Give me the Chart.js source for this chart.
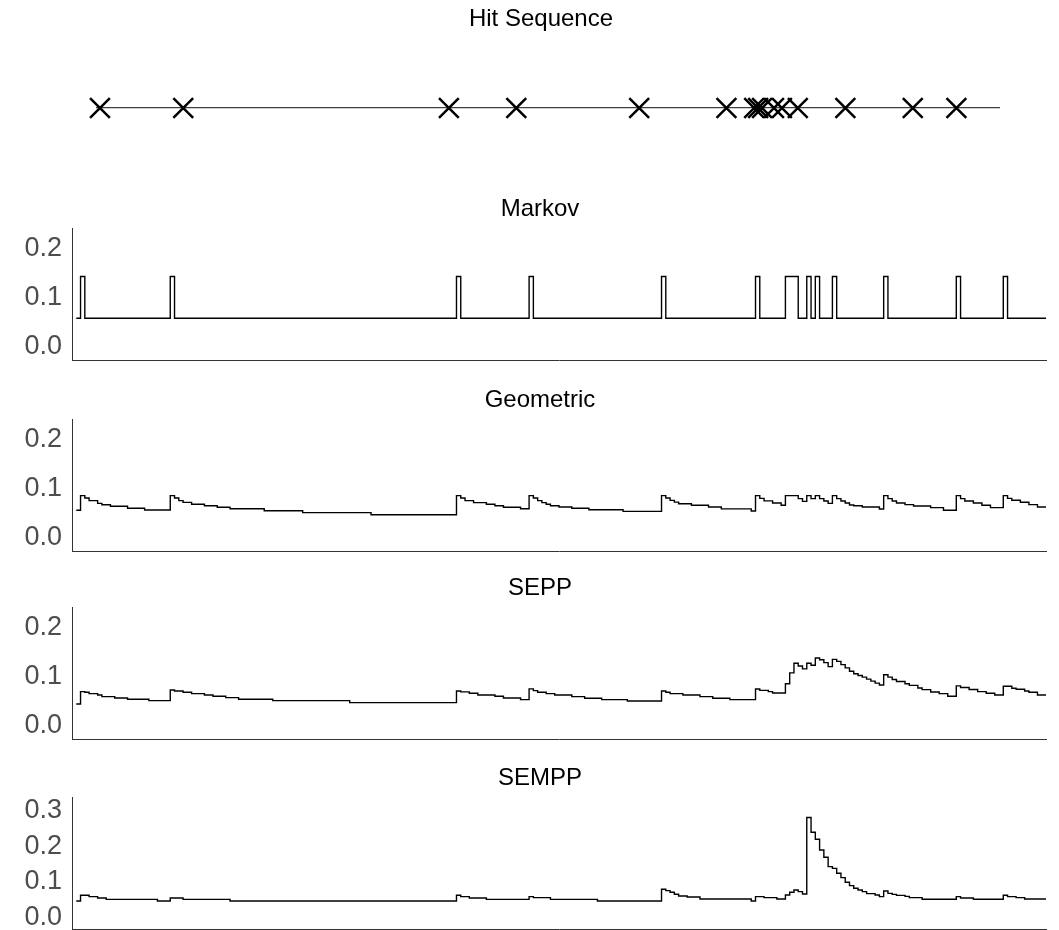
<!DOCTYPE html>
<html>
<head>
<meta charset="utf-8">
<script src="https://cdn.jsdelivr.net/npm/chart.js@4.4.1/dist/chart.umd.min.js"></script>
<style>
  body { margin: 0; background: #fff; width: 1059px; height: 930px; overflow: hidden; position: relative; }
  canvas { position: absolute; left: 0; }
</style>
</head>
<body>
<canvas id="hits" width="1059" height="180" style="top:0"></canvas>
<canvas id="markov" width="1059" height="172" style="top:190px"></canvas>
<canvas id="geometric" width="1059" height="172" style="top:381px"></canvas>
<canvas id="sepp" width="1059" height="172" style="top:569px"></canvas>
<canvas id="sempp" width="1059" height="172" style="top:759px"></canvas>
<script>
// time runs over integer steps 0..lastStep
const lastStep = 227;
const hitTimes = [1, 22, 89, 106, 137, 159, 166, 167, 168, 171, 173, 177, 189, 206, 217];

// each series: [step, value] pairs, value holds until the next pair
const markov = [
  [0, 0.058], [1, 0.143], [2, 0.058], [22, 0.143], [23, 0.058], [89, 0.143], [90, 0.058],
  [106, 0.143], [107, 0.058], [137, 0.143], [138, 0.058], [159, 0.143], [160, 0.058],
  [166, 0.143], [169, 0.058], [171, 0.143], [172, 0.058], [173, 0.143], [174, 0.058],
  [177, 0.143], [178, 0.058], [189, 0.143], [190, 0.058], [206, 0.143], [207, 0.058],
  [217, 0.143], [218, 0.058], [227, 0.058]
];

const geometric = [
  [0, 0.0558], [1, 0.0857], [2, 0.0810], [3, 0.0755], [5, 0.0700], [6, 0.0670], [8, 0.0640], [12, 0.0600], [16, 0.0565],
  [22, 0.0857], [23, 0.0810], [24, 0.0755], [25, 0.0720], [27, 0.0680], [30, 0.0650], [33, 0.0620], [36, 0.0590], [44, 0.0550], [53, 0.0510], [69, 0.0469],
  [89, 0.0857], [90, 0.0810], [91, 0.0755], [93, 0.0715], [96, 0.0680], [98, 0.0650], [100, 0.0620], [104, 0.0590],
  [106, 0.0857], [107, 0.0810], [108, 0.0755], [109, 0.0715], [110, 0.0680], [111, 0.0650], [113, 0.0625], [116, 0.0600], [120, 0.0570], [128, 0.0537],
  [137, 0.0857], [138, 0.0810], [139, 0.0760], [140, 0.0725], [141, 0.0690], [144, 0.0660], [148, 0.0625], [151, 0.0588], [158, 0.0545],
  [159, 0.0857], [160, 0.0800], [161, 0.0750], [163, 0.0706], [165, 0.0660],
  [166, 0.0857], [169, 0.0796], [170, 0.0740],
  [171, 0.0857], [172, 0.0796],
  [173, 0.0857], [174, 0.0796], [175, 0.0748], [176, 0.0700],
  [177, 0.0857], [178, 0.0796], [179, 0.0748], [180, 0.0707], [181, 0.0665], [182, 0.0652], [184, 0.0625], [188, 0.0585],
  [189, 0.0857], [190, 0.0796], [191, 0.0748], [192, 0.0707], [194, 0.0673], [196, 0.0646], [200, 0.0612], [203, 0.0558],
  [206, 0.0857], [207, 0.0796], [208, 0.0748], [210, 0.0707], [212, 0.0660], [214, 0.0612],
  [217, 0.0857], [218, 0.0800], [219, 0.0762], [221, 0.0721], [223, 0.0673], [225, 0.0626], [227, 0.0626]
];

const sepp = [
  [0, 0.0442], [1, 0.0694], [2, 0.0681], [3, 0.0654], [5, 0.0626], [6, 0.0592], [9, 0.0565], [12, 0.0538], [17, 0.0511],
  [22, 0.0728], [23, 0.0708], [25, 0.0681], [27, 0.0654], [30, 0.0626], [32, 0.0599], [35, 0.0572], [38, 0.0538], [46, 0.0511], [64, 0.0470],
  [89, 0.0708], [90, 0.0688], [92, 0.0661], [94, 0.0626], [98, 0.0599], [100, 0.0565], [104, 0.0531],
  [106, 0.0749], [107, 0.0715], [108, 0.0681], [110, 0.0654], [112, 0.0626], [116, 0.0592], [119, 0.0558], [123, 0.0531], [129, 0.0504],
  [137, 0.0708], [138, 0.0681], [139, 0.0654], [142, 0.0626], [146, 0.0592], [149, 0.0558], [153, 0.0531],
  [159, 0.0747], [160, 0.0720], [162, 0.0694], [163, 0.0667],
  [166, 0.0855], [167, 0.1076], [168, 0.1270], [169, 0.1217], [170, 0.1157], [171, 0.1270], [172, 0.1230],
  [173, 0.1378], [174, 0.1344], [175, 0.1284], [176, 0.1203],
  [177, 0.1350], [178, 0.1310], [179, 0.1243], [180, 0.1177], [181, 0.1109], [182, 0.1057], [183, 0.1022], [184, 0.0989],
  [185, 0.0948], [186, 0.0908], [187, 0.0868], [188, 0.0828],
  [189, 0.1036], [190, 0.0989], [191, 0.0941], [192, 0.0901], [194, 0.0854], [195, 0.0821], [197, 0.0767], [198, 0.0734],
  [200, 0.0687], [202, 0.0653], [204, 0.0600],
  [206, 0.0811], [207, 0.0777], [209, 0.0736], [211, 0.0694], [213, 0.0661], [215, 0.0626],
  [217, 0.0804], [219, 0.0763], [220, 0.0743], [222, 0.0708], [223, 0.0681], [225, 0.0626], [227, 0.0626]
];

const sempp = [
  [0, 0.0467], [1, 0.0628], [3, 0.0589], [5, 0.0551], [7, 0.0514], [19, 0.0467],
  [22, 0.0551], [25, 0.0514], [36, 0.0467],
  [89, 0.0628], [90, 0.0589], [92, 0.0551], [96, 0.0514],
  [106, 0.0589], [107, 0.0561], [111, 0.0514], [122, 0.0467],
  [137, 0.0795], [138, 0.0757], [139, 0.0711], [140, 0.0655], [141, 0.0608], [143, 0.0580], [146, 0.0524], [158, 0.0467],
  [159, 0.0589], [161, 0.0561], [164, 0.0524],
  [166, 0.0636], [167, 0.0711], [168, 0.0776], [169, 0.0729], [170, 0.0664],
  [171, 0.2805], [172, 0.2394], [173, 0.2197], [174, 0.1898], [175, 0.1692], [176, 0.1430], [177, 0.1383],
  [178, 0.1243], [179, 0.1122], [180, 0.0991], [181, 0.0897], [182, 0.0823], [183, 0.0776], [184, 0.0729],
  [185, 0.0673], [187, 0.0636], [188, 0.0589],
  [189, 0.0748], [190, 0.0682], [191, 0.0654], [192, 0.0626], [194, 0.0598], [195, 0.0561], [198, 0.0516],
  [206, 0.0589], [207, 0.0551], [210, 0.0516],
  [217, 0.0628], [218, 0.0589], [220, 0.0561], [222, 0.0524], [227, 0.0524]
];

const ticksLow = [0, 0.1, 0.2];
const ticksHigh = [0, 0.1, 0.2, 0.3];

Chart.defaults.font.family = '"Liberation Sans", Arial, sans-serif';

const titleOpts = text => ({
  display: true,
  text: text,
  color: '#000',
  font: { size: 24, weight: 'normal' },
  padding: { top: 4.6, bottom: 4.9 }
});

// the y scale is narrow so the titles centre where they should;
// widen its label clip box to the canvas edge once layout is done
const labelRoom = {
  id: 'labelRoom',
  afterLayout(chart) {
    if (chart.scales.y) chart.scales.y.left = 0;
  }
};

// hit markers on a plain horizontal line
new Chart(document.getElementById('hits'), {
  type: 'scatter',
  data: {
    datasets: [{
      data: hitTimes.map(t => ({ x: t, y: 0 })),
      pointStyle: 'crossRot',
      pointRadius: 14,
      pointHoverRadius: 14,
      borderWidth: 2.5,
      borderColor: '#000',
      backgroundColor: '#000',
      clip: false
    }]
  },
  options: {
    responsive: false,
    animation: false,
    events: [],
    layout: { autoPadding: false, padding: { left: 82, right: 59, top: 0, bottom: 2.3 } },
    plugins: { legend: { display: false }, tooltip: { enabled: false }, title: titleOpts('Hit Sequence') },
    scales: {
      x: { type: 'linear', display: false, min: 0, max: 228 },
      y: {
        min: -1, max: 1,
        afterBuildTicks: s => { s.ticks = [{ value: 0 }]; },
        afterFit: s => { s.width = 14; s.paddingTop = 0; s.paddingBottom = 0; },
        ticks: { display: false },
        grid: { color: '#404040', lineWidth: 1.3, drawTicks: false },
        border: { display: false }
      }
    }
  }
});

function stepPanel(id, title, series, ticks, yMin, yMax) {
  return new Chart(document.getElementById(id), {
    type: 'line',
    data: {
      datasets: [{
        data: series.map(([x, y]) => ({ x, y })),
        stepped: true,
        borderColor: '#000',
        borderWidth: 1.4,
        pointRadius: 0,
        fill: false
      }]
    },
    plugins: [labelRoom],
    options: {
      responsive: false,
      animation: false,
      events: [],
      layout: { padding: { left: 34, right: 13, top: 0, bottom: 2 } },
      plugins: { legend: { display: false }, tooltip: { enabled: false }, title: titleOpts(title) },
      scales: {
        x: {
          type: 'linear', min: -1, max: lastStep,
          ticks: { display: false },
          grid: { display: false, drawTicks: false },
          border: { color: '#333', width: 1 }
        },
        y: {
          min: yMin, max: yMax,
          afterBuildTicks: s => { s.ticks = ticks.map(v => ({ value: v })); },
          afterFit: s => { s.width = 38; s.paddingTop = 0; s.paddingBottom = 0; },
          ticks: { color: '#4d4d4d', font: { size: 27 }, padding: 10, callback: v => v.toFixed(1) },
          grid: { display: false, drawTicks: false },
          border: { color: '#333', width: 1 }
        }
      }
    }
  });
}

stepPanel('markov', 'Markov', markov, ticksLow, -0.027, 0.241);
stepPanel('geometric', 'Geometric', geometric, ticksLow, -0.027, 0.241);
stepPanel('sepp', 'SEPP', sepp, ticksLow, -0.027, 0.241);
stepPanel('sempp', 'SEMPP', sempp, ticksHigh, -0.0317, 0.3373);
</script>
</body>
</html>
